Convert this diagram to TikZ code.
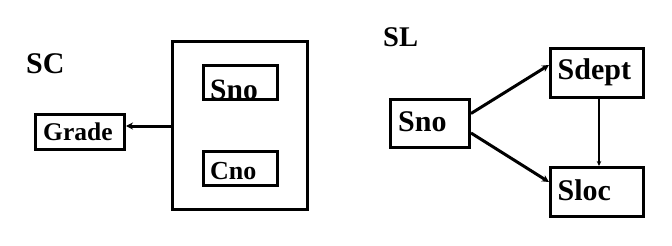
\documentclass[tikz,border=0pt]{standalone}
\usepackage{fontspec}
\setmainfont{Liberation Serif}
\usetikzlibrary{arrows.meta}
\begin{document}
\begin{tikzpicture}[x=1pt,y=-1pt,
  box/.style={draw,line width=3pt,inner sep=0pt,rectangle},
  lbl/.style={inner sep=0pt,anchor=base west,font=\bfseries},
  arr/.style={line width=3pt,-{Stealth[length=7pt,width=7pt]}},
  thinarr/.style={line width=1.5pt,-{Stealth[length=5pt,width=4.5pt]}}]
\useasboundingbox (0,0) rectangle (672,246);
% SC: composite key (Sno, Cno) determines Grade
\node[lbl,font=\bfseries\fontsize{30}{30}\selectfont] (sc) at (26,74) {SC};
\node[box,minimum width=135pt,minimum height=168pt] (key) at (240,125.5) {};
\node[box,minimum width=74pt,minimum height=34pt] (snoL) at (240.5,82.5) {};
\node[box,minimum width=74pt,minimum height=34pt] (cno) at (240.5,168.5) {};
\node[box,minimum width=89pt,minimum height=35pt] (grade) at (80,132) {};
\node[lbl,font=\bfseries\fontsize{29.5}{29.5}\selectfont] (snoLt) at (210,99.5) {Sno};
\node[lbl,font=\bfseries\fontsize{26}{26}\selectfont] (cnot) at (210,179) {Cno};
\node[lbl,font=\bfseries\fontsize{25.5}{25.5}\selectfont] (gradet) at (43,140.5) {Grade};
\draw[arr] ([yshift=-0.5pt]key.west) -- ([yshift=-0.5pt]key.west -| grade.east);
% SL: Sno determines Sdept and Sloc, Sdept determines Sloc
\node[lbl,font=\bfseries\fontsize{28.5}{28.5}\selectfont] (sl) at (383,46.5) {SL};
\node[box,minimum width=79pt,minimum height=48pt] (snoR) at (430,123.5) {};
\node[box,minimum width=93pt,minimum height=49pt] (sdept) at (597,73) {};
\node[box,minimum width=93pt,minimum height=49pt] (sloc) at (597,192) {};
\node[lbl,font=\bfseries\fontsize{30}{30}\selectfont] (snoRt) at (398,131.5) {Sno};
\node[lbl,font=\bfseries\fontsize{30}{30}\selectfont] (sdeptt) at (557.5,80) {Sdept};
\node[lbl,font=\bfseries\fontsize{30}{30}\selectfont] (sloct) at (557.5,200) {Sloc};
\draw[arr] ([yshift=10pt]snoR.east) -- ([yshift=8pt]sdept.west);
\draw[arr] ([yshift=-9.5pt]snoR.east) -- ([yshift=10pt]sloc.west);
\draw[thinarr] ([xshift=2pt]sdept.south) -- ([xshift=2pt]sloc.north);
\end{tikzpicture}
\end{document}
